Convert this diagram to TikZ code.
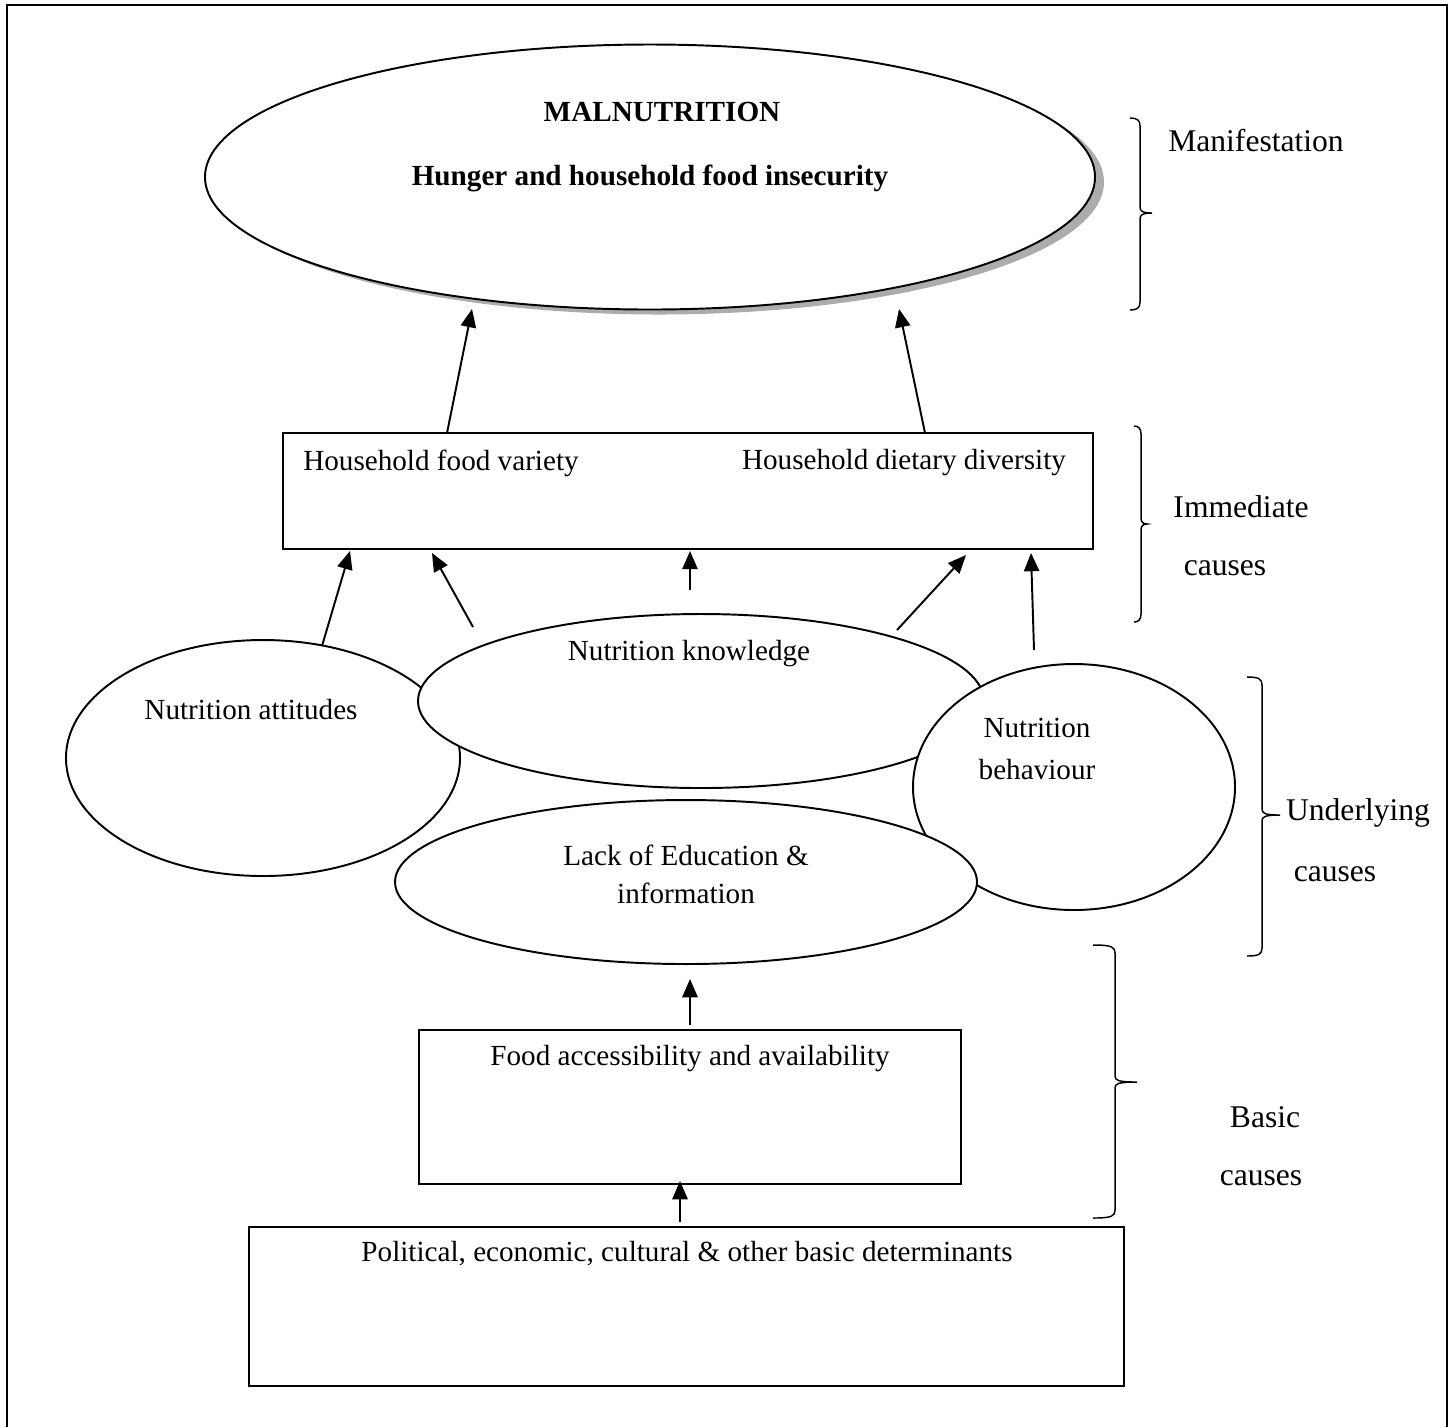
\documentclass[tikz,border=0pt]{standalone}
\usepackage{fontspec}
\setmainfont{Liberation Serif}
\usetikzlibrary{shapes.geometric,arrows.meta}
\def\u{0.4115pt}
\newcommand\mybrc[6]{\draw[bracepath] (#1,#4) .. controls ({#2-3},#4) and (#2,{#4+2}) .. (#2,{#4+8}) -- (#2,{#5-6}) .. controls (#2,{#5-2}) and ({#2+2},#5) .. (#3,#5) .. controls ({#2+2},#5) and (#2,{#5+2}) .. (#2,{#5+6}) -- (#2,{#6-8}) .. controls (#2,{#6-2}) and ({#2-3},#6) .. (#1,#6);}
\begin{document}
\begin{tikzpicture}[x=0.4115pt,y=-0.4115pt,
  outl/.style={draw, line width=0.8pt, fill=white, inner sep=0pt, outer sep=0pt},
  oval/.style={outl, ellipse},
  boxnode/.style={outl, rectangle, line width=1pt},
  txt/.style={font=\fontsize{12}{14}\selectfont, inner sep=0pt},
  lbl/.style={font=\fontsize{13}{15}\selectfont, inner sep=0pt},
  arr/.style={-{Triangle[length=7.5pt,width=6.3pt]}, line width=0.8pt},
  bracepath/.style={line width=0.6pt}]
\useasboundingbox (0,0) rectangle (1456,1427);
% outer frame (open at the bottom)
\draw[line width=1.2pt] (7,1427) -- (7,5) -- (1447,5) -- (1447,1427);

% top ellipse with shadow
\node[ellipse, fill=gray!65, inner sep=0pt, minimum width={890*\u}, minimum height={265*\u}] (topshadow) at (659,182) {};
\node[oval, minimum width={890*\u}, minimum height={265*\u}] (top) at (650,177) {};
\node[txt, font=\fontsize{12}{14}\selectfont\bfseries] (maln) at (662,112) {MALNUTRITION};
\node[txt, font=\fontsize{12}{14}\selectfont\bfseries] (hunger) at (650,178) {Hunger and household food insecurity};

% immediate causes box
\node[boxnode, minimum width={810*\u}, minimum height={116*\u}] (box1) at (688,491) {};
\node[txt] (variety) at (441,463) {Household food variety};
\node[txt] (diversity) at (904,463) {Household dietary diversity};

% underlying ellipses
\node[oval, minimum width={394*\u}, minimum height={236*\u}] (attitudes) at (263,758) {};
\node[oval, minimum width={566*\u}, minimum height={174*\u}] (knowledge) at (701,701) {};
\node[oval, minimum width={322*\u}, minimum height={246*\u}] (behaviour) at (1074,787) {};
\node[oval, minimum width={582*\u}, minimum height={164*\u}] (education) at (686,882) {};
\node[txt] (attT) at (251,709) {Nutrition attitudes};
\node[txt] (knowT) at (689,654) {Nutrition knowledge};
\node[txt, align=center, font=\fontsize{12}{17}\selectfont] (behT) at (1037,749) {Nutrition\\ behaviour};
\node[txt, align=center, font=\fontsize{12}{15.6}\selectfont] (eduT) at (686,874) {Lack of Education \&\\ information};

% basic boxes
\node[boxnode, minimum width={542*\u}, minimum height={154*\u}] (box2) at (690,1107) {};
\node[txt] (foodT) at (690,1058) {Food accessibility and availability};
\node[boxnode, minimum width={875*\u}, minimum height={159*\u}] (box3) at (686.5,1306.5) {};
\node[txt] (polT) at (687,1254) {Political, economic, cultural \& other basic determinants};

% arrow end points
\coordinate (a1s) at (447,433); \coordinate (a1e) at (472,309);
\coordinate (a2s) at (925,433); \coordinate (a2e) at (899,309);
\coordinate (a3s) at (322,646); \coordinate (a3e) at (350,551);
\coordinate (a4s) at (473,627); \coordinate (a4e) at (432,553);
\coordinate (a5s) at (690,590); \coordinate (a5e) at (690,551);
\coordinate (a6s) at (897,630); \coordinate (a6e) at (966,555);
\coordinate (a7s) at (1034,650); \coordinate (a7e) at (1031,553);
\coordinate (a8s) at (690,1025); \coordinate (a8e) at (690,979);
\coordinate (a9s) at (680,1222); \coordinate (a9e) at (680,1181);
\draw[arr] (a1s) -- (a1e);
\draw[arr] (a2s) -- (a2e);
\draw[arr] (a3s) -- (a3e);
\draw[arr] (a4s) -- (a4e);
\draw[arr] (a5s) -- (a5e);
\draw[arr] (a6s) -- (a6e);
\draw[arr] (a7s) -- (a7e);
\draw[arr] (a8s) -- (a8e);
\draw[arr] (a9s) -- (a9e);

% braces and labels
\mybrc{1130}{1140}{1152}{118}{213}{310}
\mybrc{1134}{1141}{1147}{426}{524}{622}
\mybrc{1247}{1262}{1280}{677}{815}{956}
\mybrc{1093}{1115}{1137}{945}{1082}{1218}
\node[lbl] (manif) at (1256,141) {Manifestation};
\node[lbl] (imm1) at (1241,507) {Immediate};
\node[lbl] (imm2) at (1225,568) {causes};
\node[lbl] (und1) at (1358,813) {Underlying};
\node[lbl] (und2) at (1335,874) {causes};
\node[lbl] (bas1) at (1265,1117) {Basic};
\node[lbl] (bas2) at (1261,1178) {causes};
\end{tikzpicture}
\end{document}
